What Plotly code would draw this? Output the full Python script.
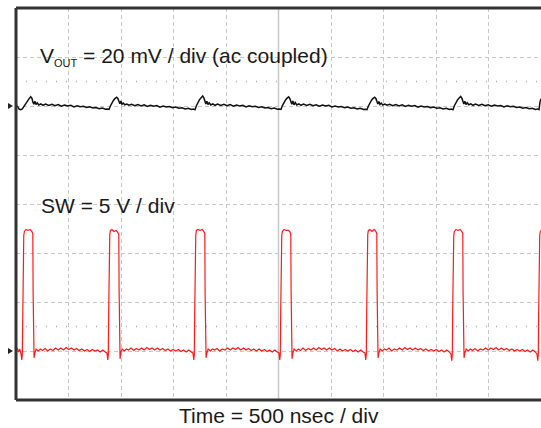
import plotly.graph_objects as go

# --- scope settings ---
TIME_PER_DIV = 500      # ns / div
N_XDIV, N_YDIV = 10, 8
VOUT_SCALE = 20         # mV / div (ac coupled)
SW_SCALE = 5            # V / div
VOUT_REF_DIV = 6        # channel marker position (div from bottom)
SW_REF_DIV = 1

# --- VOUT trace (ns, mV) ---
vout_t_ns = [
    0, 15, 30, 45, 60,
    80, 95, 110, 125, 140, 152, 162, 170, 180, 190, 202, 217, 237, 257, 282, 312, 342, 372, 402, 432,
    462, 492, 522, 552, 582, 612, 642, 672, 702, 732, 762, 792, 822, 852, 871, 886,
    899, 914, 929, 944, 959, 971, 981, 989, 999, 1009, 1021, 1036, 1056, 1076, 1101, 1131, 1161, 1191, 1221, 1251,
    1281, 1311, 1341, 1371, 1401, 1431, 1461, 1491, 1521, 1551, 1581, 1611, 1641, 1671, 1690, 1705,
    1718, 1733, 1748, 1763, 1778, 1790, 1800, 1808, 1818, 1828, 1840, 1855, 1875, 1895, 1920, 1950, 1980, 2010, 2040, 2070,
    2100, 2130, 2160, 2190, 2220, 2250, 2280, 2310, 2340, 2370, 2400, 2430, 2460, 2490, 2509, 2524,
    2537, 2552, 2567, 2582, 2597, 2609, 2619, 2627, 2637, 2647, 2659, 2674, 2694, 2714, 2739, 2769, 2799, 2829, 2859, 2889,
    2919, 2949, 2979, 3009, 3039, 3069, 3099, 3129, 3159, 3189, 3219, 3249, 3279, 3309, 3328, 3343,
    3356, 3371, 3386, 3401, 3416, 3428, 3438, 3446, 3456, 3466, 3478, 3493, 3513, 3533, 3558, 3588, 3618, 3648, 3678, 3708,
    3738, 3768, 3798, 3828, 3858, 3888, 3918, 3948, 3978, 4008, 4038, 4068, 4098, 4128, 4147, 4162,
    4175, 4190, 4205, 4220, 4235, 4247, 4257, 4265, 4275, 4285, 4297, 4312, 4332, 4352, 4377, 4407, 4437, 4467, 4497, 4527,
    4557, 4587, 4617, 4647, 4677, 4707, 4737, 4767, 4797, 4827, 4857, 4887, 4917, 4947, 4966, 4981,
    4990, 5000,
]
vout_mv = [
    0.3, -0.2, -1.3, -1.5, -1.2,
    0.1, 1.5, 2.3, 3.0, 3.8, 3.1, 1.4, 0.7, 1.9, 0.6, 1.3, 0.4, 0.9, 0.3, 0.8, 0.2, 0.7, 0.1, 0.6, -0.1,
    0.4, 0.0, 0.3, -0.4, 0.1, -0.3, -0.1, -0.6, -0.3, -0.8, -0.6, -1.1, -0.8, -1.3, -1.2, -1.4,
    0.0, 1.4, 2.4, 3.1, 3.6, 3.0, 1.5, 0.9, 2.0, 0.7, 1.2, 0.5, 0.8, 0.3, 0.7, 0.1, 0.6, 0.0, 0.5, -0.2,
    0.3, -0.1, 0.2, -0.5, 0.0, -0.4, -0.2, -0.7, -0.4, -0.9, -0.7, -1.2, -0.9, -1.4, -1.2, -1.5,
    0.1, 1.6, 2.6, 3.4, 4.1, 3.2, 1.6, 0.8, 1.9, 0.6, 1.3, 0.4, 0.9, 0.3, 0.8, 0.2, 0.7, 0.1, 0.6, -0.1,
    0.4, 0.0, 0.3, -0.4, 0.1, -0.3, -0.1, -0.6, -0.3, -0.8, -0.6, -1.1, -0.8, -1.3, -1.2, -1.4,
    0.2, 1.7, 2.5, 3.2, 3.7, 2.9, 1.3, 0.7, 2.1, 0.5, 1.4, 0.4, 0.9, 0.3, 0.8, 0.2, 0.7, 0.1, 0.5, -0.1,
    0.4, 0.0, 0.3, -0.4, 0.0, -0.4, -0.2, -0.7, -0.4, -0.9, -0.7, -1.2, -0.9, -1.4, -1.3, -1.5,
    0.0, 1.5, 2.4, 3.1, 3.6, 3.0, 1.5, 0.8, 1.8, 0.6, 1.2, 0.4, 0.8, 0.3, 0.7, 0.1, 0.6, 0.0, 0.5, -0.2,
    0.3, -0.1, 0.2, -0.5, 0.0, -0.4, -0.2, -0.7, -0.4, -0.9, -0.7, -1.2, -0.9, -1.4, -1.2, -1.5,
    0.1, 1.6, 2.5, 3.3, 3.9, 3.1, 1.5, 0.8, 1.9, 0.6, 1.3, 0.5, 0.9, 0.3, 0.8, 0.2, 0.7, 0.1, 0.5, -0.1,
    0.4, 0.0, 0.2, -0.4, 0.1, -0.3, -0.1, -0.6, -0.4, -0.9, -0.6, -1.1, -0.9, -1.4, -1.2, -1.5,
    1.5, 3.0,
]

# --- SW node trace (ns, V) ---
sw_t_ns = [
    0, 12, 24, 36, 48, 55, 60,
    64, 68, 74, 80, 95, 115, 135, 150, 160, 163, 166, 172, 180, 192, 212, 232, 252, 277, 302, 327, 352, 377,
    402, 427, 452, 477, 502, 527, 552, 577, 602, 627, 652, 677, 702, 727, 752, 777, 802, 827, 850, 866, 874, 879,
    883, 887, 893, 899, 914, 934, 954, 969, 979, 982, 985, 991, 999, 1011, 1031, 1051, 1071, 1096, 1121, 1146, 1171, 1196,
    1221, 1246, 1271, 1296, 1321, 1346, 1371, 1396, 1421, 1446, 1471, 1496, 1521, 1546, 1571, 1596, 1621, 1646, 1669, 1685, 1693, 1698,
    1702, 1706, 1712, 1718, 1733, 1753, 1773, 1788, 1798, 1801, 1804, 1810, 1818, 1830, 1850, 1870, 1890, 1915, 1940, 1965, 1990, 2015,
    2040, 2065, 2090, 2115, 2140, 2165, 2190, 2215, 2240, 2265, 2290, 2315, 2340, 2365, 2390, 2415, 2440, 2465, 2488, 2504, 2512, 2517,
    2521, 2525, 2531, 2537, 2552, 2572, 2592, 2607, 2617, 2620, 2623, 2629, 2637, 2649, 2669, 2689, 2709, 2734, 2759, 2784, 2809, 2834,
    2859, 2884, 2909, 2934, 2959, 2984, 3009, 3034, 3059, 3084, 3109, 3134, 3159, 3184, 3209, 3234, 3259, 3284, 3307, 3323, 3331, 3336,
    3340, 3344, 3350, 3356, 3371, 3391, 3411, 3426, 3436, 3439, 3442, 3448, 3456, 3468, 3488, 3508, 3528, 3553, 3578, 3603, 3628, 3653,
    3678, 3703, 3728, 3753, 3778, 3803, 3828, 3853, 3878, 3903, 3928, 3953, 3978, 4003, 4028, 4053, 4078, 4103, 4126, 4142, 4150, 4155,
    4159, 4163, 4169, 4175, 4190, 4210, 4230, 4245, 4255, 4258, 4261, 4267, 4275, 4287, 4307, 4327, 4347, 4372, 4397, 4422, 4447, 4472,
    4497, 4522, 4547, 4572, 4597, 4622, 4647, 4672, 4697, 4722, 4747, 4772, 4797, 4822, 4847, 4872, 4897, 4922, 4945, 4961, 4969, 4974,
    4978, 4982, 4988, 4994, 5000,
]
sw_v = [
    0.1, 0.3, -0.1, 0.2, -0.3, -0.9, -0.4,
    4.0, 9.0, 11.8, 12.2, 12.4, 12.3, 12.4, 12.2, 12.0, 6.0, 0.5, -0.7, -0.2, 0.2, 0.0, 0.2, 0.05, 0.25, 0.0, 0.2, 0.05, 0.3,
    0.1, 0.3, 0.1, 0.35, 0.15, 0.3, 0.1, 0.25, 0.05, 0.2, 0.0, 0.15, -0.05, 0.15, 0.0, 0.1, -0.1, 0.1, -0.1, -0.2, -0.9, -0.4,
    4.2, 9.2, 11.9, 12.3, 12.4, 12.2, 12.3, 12.1, 11.9, 6.2, 0.4, -0.8, -0.1, 0.2, 0.0, 0.2, 0.1, 0.3, 0.05, 0.25, 0.1, 0.3,
    0.1, 0.35, 0.15, 0.3, 0.1, 0.3, 0.1, 0.25, 0.05, 0.2, 0.0, 0.15, 0.0, 0.15, -0.05, 0.1, -0.1, 0.1, -0.1, -0.2, -0.9, -0.4,
    4.0, 9.1, 11.8, 12.3, 12.4, 12.3, 12.4, 12.2, 12.0, 6.0, 0.5, -0.7, -0.2, 0.2, 0.0, 0.2, 0.1, 0.25, 0.0, 0.2, 0.1, 0.3,
    0.1, 0.3, 0.15, 0.35, 0.1, 0.3, 0.1, 0.25, 0.05, 0.2, 0.0, 0.2, 0.0, 0.15, -0.05, 0.1, -0.1, 0.1, -0.1, -0.2, -0.9, -0.4,
    4.1, 9.0, 11.8, 12.2, 12.4, 12.3, 12.3, 12.2, 11.9, 6.1, 0.4, -0.8, -0.2, 0.2, 0.0, 0.2, 0.05, 0.3, 0.05, 0.25, 0.1, 0.3,
    0.1, 0.35, 0.15, 0.3, 0.1, 0.3, 0.1, 0.25, 0.0, 0.2, 0.0, 0.15, 0.0, 0.15, -0.05, 0.1, -0.1, 0.1, -0.1, -0.2, -0.9, -0.4,
    4.0, 9.1, 11.9, 12.3, 12.4, 12.2, 12.4, 12.2, 12.0, 6.0, 0.5, -0.7, -0.2, 0.2, 0.0, 0.2, 0.1, 0.3, 0.0, 0.2, 0.1, 0.3,
    0.1, 0.35, 0.15, 0.3, 0.1, 0.3, 0.1, 0.25, 0.05, 0.2, 0.0, 0.15, 0.0, 0.15, -0.05, 0.1, -0.1, 0.1, -0.1, -0.3, -1.0, -0.4,
    4.1, 9.0, 11.8, 12.2, 12.4, 12.3, 12.4, 12.2, 12.0, 6.0, 0.5, -0.7, -0.2, 0.2, 0.0, 0.2, 0.05, 0.25, 0.0, 0.2, 0.1, 0.3,
    0.1, 0.3, 0.15, 0.35, 0.1, 0.3, 0.1, 0.25, 0.05, 0.2, 0.0, 0.15, 0.0, 0.15, -0.05, 0.1, -0.1, 0.1, -0.1, -0.3, -1.0, -0.4,
    4.0, 9.0, 11.8, 12.2, 12.3,
]

# convert channel units to screen divisions
vout_div = [VOUT_REF_DIV + v / VOUT_SCALE for v in vout_mv]
sw_div = [SW_REF_DIV + v / SW_SCALE for v in sw_v]

fig = go.Figure()

fig.add_trace(go.Scatter(x=vout_t_ns, y=vout_div, mode='lines',
                         line=dict(color='#111111', width=1.5), hoverinfo='skip'))
fig.add_trace(go.Scatter(x=sw_t_ns, y=sw_div, mode='lines',
                         line=dict(color='#ff1a1a', width=1.2), hoverinfo='skip'))

x_max = TIME_PER_DIV * N_XDIV

# channel ground markers, just left of the frame
for ref in [VOUT_REF_DIV, SW_REF_DIV]:
    fig.add_shape(type='path', xref='paper', yref='y', xsizemode='pixel', ysizemode='pixel',
                  xanchor=0, yanchor=ref, path='M-8,-3 L-3,0 L-8,3 Z',
                  fillcolor='#222222', line=dict(width=0))

# solid centre graticule line and the sparse dotted reference rows
fig.add_shape(type='line', x0=x_max / 2, x1=x_max / 2, y0=0, y1=N_YDIV,
              line=dict(color='#c8c8c8', width=1.5), layer='below')
for yy in [6.5, 1.5]:
    fig.add_shape(type='line', x0=0, x1=x_max, y0=yy, y1=yy,
                  line=dict(color='#b0b0b0', width=1.5, dash='1px,9px'), layer='below')

# frame: left, top, bottom
for s in [dict(x0=0, x1=0, y0=0, y1=1), dict(x0=0, x1=1, y0=1, y1=1), dict(x0=0, x1=1, y0=0, y1=0)]:
    fig.add_shape(type='line', xref='paper', yref='paper', line=dict(color='#333333', width=3), **s)

font = dict(family='Liberation Sans, Arial', size=21, color='#1a1a1a')
fig.add_annotation(x=205, y=7.02, xref='x', yref='y', xanchor='left', yanchor='middle',
                   text='V<sub><span style="font-size:11px">OUT</span></sub> = 20 mV / div (ac coupled)',
                   showarrow=False, font=font)
fig.add_annotation(x=215, y=3.97, xref='x', yref='y', xanchor='left', yanchor='middle',
                   text='SW = 5 V / div', showarrow=False, font=font)
fig.add_annotation(x=0.5, y=0, xref='paper', yref='paper', xanchor='center', yanchor='middle',
                   yshift=-15, text='Time = 500 nsec / div', showarrow=False, font=font)

fig.update_xaxes(range=[0, x_max], dtick=TIME_PER_DIV, showgrid=True, gridcolor='#c8c8c8',
                 griddash='4px,3px', gridwidth=1, showticklabels=False, zeroline=False, showline=False)
fig.update_yaxes(range=[0, N_YDIV], dtick=1, showgrid=True, gridcolor='#c8c8c8',
                 griddash='4px,3px', gridwidth=1, showticklabels=False, zeroline=False, showline=False)

fig.update_layout(width=541, height=428, margin=dict(l=16, r=0, t=8, b=28),
                  paper_bgcolor='white', plot_bgcolor='white', showlegend=False)

# the page's default body margin would shift the figure by 8px
fig.write_html("out.html", config={'displayModeBar': False},
               post_script="document.body.style.margin='0';")
